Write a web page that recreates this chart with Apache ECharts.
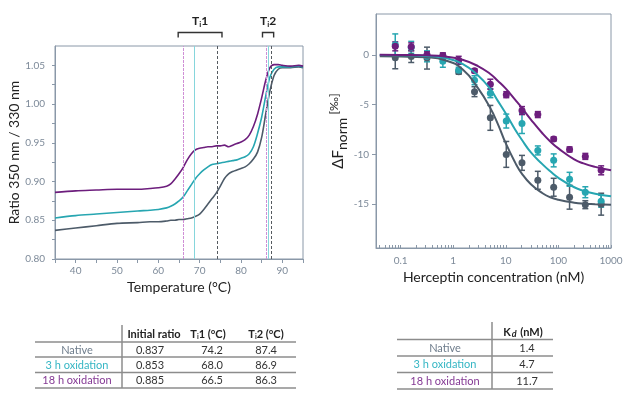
<!DOCTYPE html>
<html>
<head>
<meta charset="utf-8">
<script src="https://cdn.jsdelivr.net/npm/echarts@6/dist/echarts.min.js"></script>
<style>
  html, body { margin: 0; padding: 0; background: #fff; }
  #chart { width: 631px; height: 396px; }
</style>
</head>
<body>
<div id="chart"></div>
<script>
const FONT = 'Lato';
const AXIS_GREY = '#8a98a8';
const LABEL_GREY = '#7d8a99';
const C_NATIVE = '#4d5b69';
const C_3H = '#27a6b1';
const C_18H = '#6d1e7d';

// thermal unfolding (left)
const temps = [35, 40, 45, 50, 55, 58, 60, 62, 63, 64, 65, 66, 67, 68, 69, 70, 71, 72, 73, 74, 75, 76, 77, 78, 79, 80, 81, 82, 83, 84, 85, 86, 87, 88, 89, 90, 92, 94, 95];
const ratioNative = [0.837, 0.840, 0.843, 0.846, 0.847, 0.848, 0.848, 0.849, 0.850, 0.850, 0.851, 0.851, 0.852, 0.853, 0.855, 0.858, 0.864, 0.871, 0.878, 0.885, 0.894, 0.904, 0.910, 0.913, 0.915, 0.917, 0.919, 0.923, 0.929, 0.938, 0.957, 0.988, 1.017, 1.037, 1.045, 1.047, 1.047, 1.048, 1.047];
const ratio3h = [0.853, 0.856, 0.858, 0.860, 0.862, 0.863, 0.864, 0.866, 0.868, 0.871, 0.875, 0.880, 0.888, 0.896, 0.904, 0.910, 0.915, 0.919, 0.922, 0.923, 0.924, 0.925, 0.926, 0.927, 0.928, 0.930, 0.932, 0.936, 0.945, 0.962, 0.983, 1.011, 1.035, 1.045, 1.048, 1.048, 1.048, 1.049, 1.048];
const ratio18h = [0.886, 0.888, 0.889, 0.890, 0.890, 0.891, 0.892, 0.894, 0.897, 0.903, 0.910, 0.918, 0.928, 0.936, 0.941, 0.943, 0.944, 0.945, 0.945, 0.946, 0.946, 0.947, 0.945, 0.947, 0.949, 0.951, 0.954, 0.960, 0.971, 0.987, 1.008, 1.031, 1.047, 1.051, 1.051, 1.050, 1.049, 1.050, 1.049];

// vertical marker lines as drawn (native, 3 h, 18 h)
const ti1Lines = [74.3, 68.8, 66.0];
const ti2Lines = [87.2, 86.7, 86.2];
const ti1Bracket = [64.8, 75.4];
const ti2Bracket = [85.2, 87.9];

// binding (right)
const conc = [0.079, 0.159, 0.317, 0.635, 1.27, 2.54, 5.08, 10.2, 20.3, 40.6, 81.3, 163, 325, 650];
const dfNative = [-0.3, -0.17, -0.33, -0.17, -1.7, -3.7, -6.33, -10.0, -10.85, -12.6, -13.3, -14.3, -15.05, -15.0];
const errNative = [1.1, 0.6, 1.1, 0.3, 0.25, 0.5, 1.25, 1.3, 0.75, 0.9, 0.9, 1.2, 0.4, 1.1];
const df3h = [1.0, 0.75, -0.15, -0.65, -1.55, -2.55, -3.85, -6.65, -6.9, -9.6, -10.6, -12.5, -13.8, -14.7];
const err3h = [1.1, 0.6, 0.55, 0.6, 0.3, 0.45, 0.45, 0.7, 1.0, 0.45, 0.65, 0.7, 0.55, 0.6];
const df18h = [0.85, 0.8, 0.0, -0.1, -0.55, -1.6, -2.95, -4.0, -5.6, -6.0, -8.45, -9.5, -10.2, -11.6];
const err18h = [0.45, 0.4, 0.3, 0.3, 0.4, 0.2, 0.5, 0.3, 0.4, 0.3, 0.2, 0.25, 0.3, 0.45];

const fitConc = [0.04, 0.1, 0.3, 0.7, 1.5, 3, 5, 7, 10, 15, 20, 30, 50, 70, 100, 200, 300, 500, 1000];
const fitNative = [-0.15, -0.17, -0.25, -0.55, -1.45, -3.4, -5.3, -6.9, -8.9, -10.8, -11.9, -13.0, -13.9, -14.3, -14.55, -14.85, -14.95, -15.0, -15.05];
const fit3h = [-0.02, -0.04, -0.12, -0.32, -0.9, -2.1, -3.4, -4.6, -5.9, -7.5, -8.5, -9.8, -11.0, -11.7, -12.35, -13.3, -13.65, -13.95, -14.2];
const fit18h = [0, -0.01, -0.05, -0.17, -0.5, -1.15, -1.9, -2.6, -3.4, -4.5, -5.3, -6.5, -7.9, -8.7, -9.4, -10.5, -10.9, -11.25, -11.6];

const concLabels = [0.1, 1, 10, 100, 1000];
const dfLabels = [-15, -10, -5, 0];

// tables
const sampleNames = ['Native', '3 h oxidation', '18 h oxidation'];
const sampleColors = ['#6f7d8c', '#35b6c4', '#853a95'];
const initialRatio = ['0.837', '0.853', '0.885'];
const ti1Table = ['74.2', '68.0', '66.5'];
const ti2Table = ['87.4', '86.9', '86.3'];
const kdTable = ['1.4', '4.7', '11.7'];

const chart = echarts.init(document.getElementById('chart'));

const zip = (xs, ys) => xs.map((x, i) => [x, ys[i]]);

const logTicks = [];
[0.01, 0.1, 1, 10, 100].forEach(d => {
  for (let m = 1; m <= 9; m++) logTicks.push(+(d * m).toPrecision(3));
});
logTicks.push(1000);

function errorBars(color) {
  return function (params, api) {
    const top = api.coord([api.value(0), api.value(2)]);
    const bot = api.coord([api.value(0), api.value(1)]);
    const cap = 3;
    const st = { stroke: color, lineWidth: 1.5 };
    return {
      type: 'group',
      children: [
        { type: 'line', shape: { x1: top[0], y1: top[1], x2: bot[0], y2: bot[1] }, style: st },
        { type: 'line', shape: { x1: top[0] - cap, y1: top[1], x2: top[0] + cap, y2: top[1] }, style: st },
        { type: 'line', shape: { x1: bot[0] - cap, y1: bot[1], x2: bot[0] + cap, y2: bot[1] }, style: st }
      ]
    };
  };
}

function bindingSeries(color, means, errs, fit) {
  return [
    {
      type: 'line', xAxisIndex: 1, yAxisIndex: 1,
      data: zip(fitConc, fit), smooth: true, showSymbol: false,
      lineStyle: { color: color, width: 2 }, silent: true
    },
    {
      type: 'custom', xAxisIndex: 1, yAxisIndex: 1,
      data: conc.map((c, i) => [c, means[i] - errs[i], means[i] + errs[i]]),
      encode: { x: 0, y: [1, 2] },
      renderItem: errorBars(color), silent: true
    },
    {
      type: 'scatter', xAxisIndex: 1, yAxisIndex: 1,
      data: zip(conc, means), symbolSize: 7,
      itemStyle: { color: color, opacity: 1 }, silent: true
    }
  ];
}

const markStyle = [
  { color: '#555a60', type: [3, 2], width: 1 },
  { color: '#86d6dc', type: 'solid', width: 1 },
  { color: '#cf8fd6', type: [3, 1], width: 1 }
];

const option = {
  animation: false,
  textStyle: { fontFamily: FONT },
  grid: [
    { left: 55, right: 328, top: 46, bottom: 137, show: true, borderColor: AXIS_GREY, borderWidth: 1 },
    { left: 376, right: 20, top: 14, bottom: 148, show: true, borderColor: AXIS_GREY, borderWidth: 1 }
  ],
  xAxis: [
    {
      type: 'value', gridIndex: 0, min: 35, max: 95, interval: 5,
      name: 'Temperature (°C)', nameLocation: 'middle', nameGap: 20,
      nameTextStyle: { fontSize: 14, color: '#222', fontFamily: FONT },
      axisLine: { onZero: false, lineStyle: { color: AXIS_GREY } },
      axisTick: { length: 4, lineStyle: { color: AXIS_GREY } },
      axisLabel: {
        color: LABEL_GREY, fontSize: 10, margin: 7,
        formatter: v => (v % 10 === 0 ? String(v) : '')
      },
      splitLine: { show: false }
    },
    {
      type: 'log', gridIndex: 1, logBase: 10, min: 0.034, max: 1000,
      name: 'Herceptin concentration (nM)', nameLocation: 'middle', nameGap: 21,
      nameTextStyle: { fontSize: 14, color: '#222', fontFamily: FONT },
      axisLine: { onZero: false, lineStyle: { color: AXIS_GREY } },
      axisTick: { inside: true, length: 3, customValues: logTicks, lineStyle: { color: AXIS_GREY } },
      axisLabel: {
        color: LABEL_GREY, fontSize: 10, margin: 8, customValues: concLabels,
        formatter: v => String(v)
      },
      splitLine: { show: false },
      minorSplitLine: { show: false }
    }
  ],
  yAxis: [
    {
      type: 'value', gridIndex: 0, min: 0.8, max: 1.075, interval: 0.025,
      name: 'Ratio 350 nm / 330 nm', nameLocation: 'middle', nameGap: 30,
      nameTextStyle: { fontSize: 14, color: '#222', fontFamily: FONT },
      axisLine: { show: true, onZero: false, lineStyle: { color: AXIS_GREY } },
      axisTick: { show: true, length: 3, lineStyle: { color: AXIS_GREY } },
      axisLabel: {
        color: LABEL_GREY, fontSize: 10, margin: 10, showMaxLabel: false,
        formatter: v => (Math.round(v * 40) % 2 === 0 ? v.toFixed(2) : '')
      },
      splitLine: { show: false }
    },
    {
      type: 'value', gridIndex: 1, min: -19.4, max: 4.1,
      name: '{a|ΔF}{s|norm}{u| [‰]}', nameLocation: 'middle', nameGap: 26,
      nameTextStyle: {
        color: '#222', fontFamily: FONT,
        rich: {
          a: { fontSize: 15, color: '#222', fontFamily: FONT },
          s: { fontSize: 14, color: '#222', fontFamily: FONT, padding: [9, 0, 0, 0] },
          u: { fontSize: 12, color: '#222', fontFamily: FONT, padding: [0, 0, 8, 0] }
        }
      },
      axisLine: { show: true, onZero: false, lineStyle: { color: AXIS_GREY } },
      axisTick: { show: true, length: 4, customValues: dfLabels, lineStyle: { color: AXIS_GREY } },
      axisLabel: { color: LABEL_GREY, fontSize: 10, margin: 7, customValues: dfLabels },
      splitLine: { show: false }
    }
  ],
  series: [
    {
      type: 'line', xAxisIndex: 0, yAxisIndex: 0, data: zip(temps, ratioNative),
      showSymbol: false, smooth: 0.3, lineStyle: { color: C_NATIVE, width: 1.6 }, silent: true,
      markLine: {
        silent: true, symbol: 'none', label: { show: false },
        data: ti1Lines.concat(ti2Lines).map((t, i) => ({ xAxis: t, lineStyle: markStyle[i % 3] }))
      }
    },
    {
      type: 'line', xAxisIndex: 0, yAxisIndex: 0, data: zip(temps, ratio3h),
      showSymbol: false, smooth: 0.3, lineStyle: { color: C_3H, width: 1.6 }, silent: true
    },
    {
      type: 'line', xAxisIndex: 0, yAxisIndex: 0, data: zip(temps, ratio18h),
      showSymbol: false, smooth: 0.3, lineStyle: { color: C_18H, width: 1.6 }, silent: true
    }
  ]
    .concat(bindingSeries(C_NATIVE, dfNative, errNative, fitNative))
    .concat(bindingSeries(C_3H, df3h, err3h, fit3h))
    .concat(bindingSeries(C_18H, df18h, err18h, fit18h))
};

chart.setOption(option);

// annotations and tables
const LINE_GREY = '#8c8c8c';
const els = [];

function hline(x1, x2, y) {
  els.push({ type: 'line', shape: { x1: x1, y1: y, x2: x2, y2: y }, style: { stroke: LINE_GREY, lineWidth: 1.5 }, silent: true });
}
function vline(x, y1, y2) {
  els.push({ type: 'line', shape: { x1: x, y1: y1, x2: x, y2: y2 }, style: { stroke: LINE_GREY, lineWidth: 1.5 }, silent: true });
}
function label(x, y, text, fill, bold, rich) {
  const st = {
    text: text, fill: fill, align: 'center', verticalAlign: 'middle',
    font: (bold ? 'bold ' : '') + '11px ' + FONT
  };
  if (rich) st.rich = rich;
  els.push({ type: 'text', x: x, y: y, style: st, silent: true });
}

const subRich = (size) => ({
  b: { fontSize: size, fontWeight: 'bold', fontFamily: FONT, fill: '#222' },
  s: { fontSize: Math.round(size * 0.65), fontWeight: 'bold', fontFamily: FONT, fill: '#222', padding: [6, 0, 0, 0] }
});

// brackets over the Ti ranges
[[ti1Bracket, '1'], [ti2Bracket, '2']].forEach(([range, n]) => {
  const xa = chart.convertToPixel({ gridIndex: 0 }, [range[0], 0.9])[0];
  const xb = chart.convertToPixel({ gridIndex: 0 }, [range[1], 0.9])[0];
  els.push({
    type: 'polyline',
    shape: { points: [[xa, 37.5], [xa, 32.5], [xb, 32.5], [xb, 37.5]] },
    style: { stroke: '#333', lineWidth: 1.4, fill: null }, silent: true
  });
  label((xa + xb) / 2, 21, '{b|T}{s|i}{b|' + n + '}', '#222', true, subRich(12));
});

// left table
hline(35, 296, 342);
hline(35, 296, 357);
hline(35, 296, 372.5);
hline(35, 296, 388);
vline(122, 325, 388);
label(154, 334, 'Initial ratio', '#222', true);
label(208, 334, '{b|T}{s|i}{b|1 (°C)}', '#222', true, subRich(11));
label(266, 334, '{b|T}{s|i}{b|2 (°C)}', '#222', true, subRich(11));
const rowY = [350, 365.5, 380.5];
sampleNames.forEach((name, i) => {
  label(77, rowY[i], name, sampleColors[i], false);
  label(150, rowY[i], initialRatio[i], '#333', false);
  label(212, rowY[i], ti1Table[i], '#333', false);
  label(266, rowY[i], ti2Table[i], '#333', false);
});

// right table
hline(397, 553, 339.5);
hline(397, 553, 356);
hline(397, 553, 372.5);
hline(397, 553, 389);
vline(492, 322, 389);
label(523, 332, '{b|K}{d|d}{b| (nM)}', '#222', true, {
  b: { fontSize: 11, fontWeight: 'bold', fontFamily: FONT, fill: '#222' },
  d: { fontSize: 9, fontStyle: 'italic', fontWeight: 'bold', fontFamily: FONT, fill: '#222', padding: [4, 1, 0, 1] }
});
const rowY2 = [348, 364.5, 381];
sampleNames.forEach((name, i) => {
  label(445, rowY2[i], name, sampleColors[i], false);
  label(527, rowY2[i], kdTable[i], '#333', false);
});

chart.setOption({ graphic: els });

window.addEventListener('resize', () => chart.resize());
</script>
</body>
</html>
